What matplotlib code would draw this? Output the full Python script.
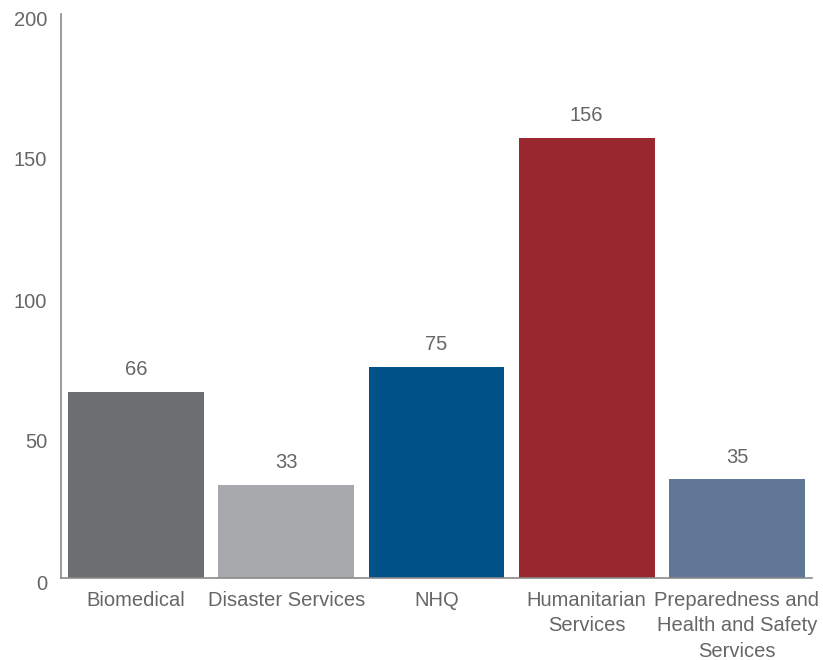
import matplotlib
matplotlib.use('Agg')
from matplotlib import pyplot as plt
from matplotlib.transforms import ScaledTranslation

categories = ['Biomedical', 'Disaster Services', 'NHQ',
              'Humanitarian\nServices',
              'Preparedness and\nHealth and Safety\nServices']
values = [66, 33, 75, 156, 35]
colors = ['#6d6e71', '#a7a9ac', '#005288', '#98272f', '#607896']
yticks = [0, 50, 100, 150, 200]

plt.rcParams['font.family'] = ['Liberation Sans', 'DejaVu Sans']
text_color = '#666666'
fsize = 14.5

fig = plt.figure(figsize=(8.23, 6.6), dpi=100)
ax = fig.add_axes([61 / 823, 82 / 660, 751 / 823, 564 / 660])

x = range(len(categories))
bars = ax.bar(x, values, width=0.905, color=colors)
for bar, v in zip(bars, values):
    ax.annotate(str(v), (bar.get_x() + bar.get_width() / 2, v),
                xytext=(0, 16), textcoords='offset points',
                ha='center', va='center', fontsize=fsize, color=text_color)

ax.set_xlim(-0.5, 4.5)
ax.set_ylim(0, 200)
ax.set_yticks(yticks)
ax.set_xticks(list(x))
ax.set_xticklabels(categories, va='top', linespacing=1.45)
ax.tick_params(axis='both', length=0, labelsize=fsize, labelcolor=text_color)
ax.tick_params(axis='y', pad=10)
ax.tick_params(axis='x', pad=9)
# nudge y labels down a little like the original
shift = ScaledTranslation(0, -4 / 100, fig.dpi_scale_trans)
for lbl in ax.get_yticklabels():
    lbl.set_transform(lbl.get_transform() + shift)
for side in ('top', 'right'):
    ax.spines[side].set_visible(False)
for side in ('left', 'bottom'):
    ax.spines[side].set_color('#8a8a8a')
    ax.spines[side].set_linewidth(1.2)

fig.savefig('out.png', dpi=100)
